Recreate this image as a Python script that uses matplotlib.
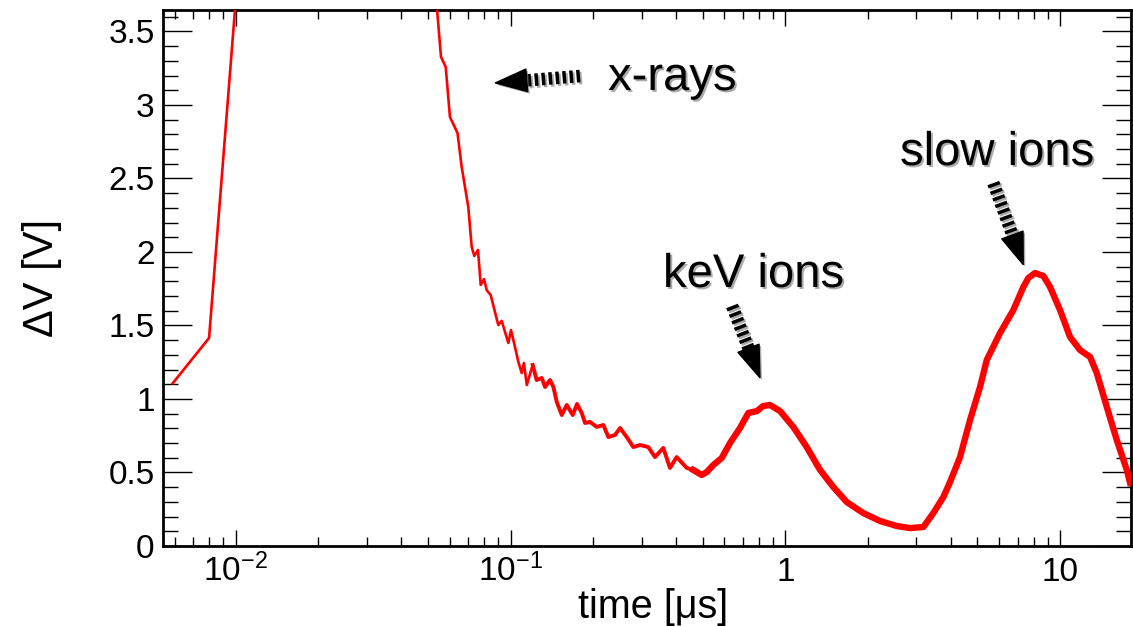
#!/usr/bin/env python3
"""Detector signal vs. time after the laser shot, with x-ray and ion peaks marked."""

import matplotlib

matplotlib.use("Agg")
import matplotlib.patheffects as pe
import matplotlib.pyplot as plt
import numpy as np
from matplotlib.patches import Polygon
from matplotlib.ticker import FixedLocator, LogLocator, MultipleLocator, NullFormatter

# signal trace: time [us] and amplitude [V]; the first burst runs off the top of the frame
time_us = [
    0.0059, 0.0080, 0.0100, 0.0120, 0.0200, 0.0400, 0.0500,
    0.0536, 0.05585, 0.05809, 0.06021, 0.06413, 0.06643, 0.07020, 0.07224,
    0.07384, 0.07615, 0.07790, 0.08008, 0.08191, 0.08469, 0.09028, 0.09290,
    0.09818, 0.1004, 0.1038, 0.1068, 0.1098, 0.1119, 0.1146, 0.1204,
    0.1245, 0.1299, 0.1336, 0.1392, 0.1432, 0.1473, 0.1536, 0.1602,
    0.1684, 0.1746, 0.1816, 0.1867, 0.1947, 0.2059, 0.2177, 0.2270,
    0.2401, 0.2504, 0.2648, 0.2798, 0.2960, 0.3172, 0.3355, 0.3597,
    0.3804, 0.4024, 0.4377, 0.4625, 0.4964, 0.5176, 0.5470, 0.5870,
    0.6292, 0.6841, 0.7334, 0.7889, 0.8297, 0.8796, 0.9565, 1.069,
    1.196, 1.338, 1.495, 1.673, 1.922, 2.211, 2.544, 2.843,
    3.178, 3.456, 3.758, 3.975, 4.322, 4.700, 5.111, 5.406,
    6.043, 6.755, 7.347, 7.661, 8.103, 8.687, 9.188, 9.991,
    10.86, 11.81, 12.85, 13.59, 14.78, 16.07, 17.48, 17.97,
]
signal_v = [
    1.107, 1.415, 3.71, 8.5, 10.0, 5.5, 4.2,
    3.73, 3.327, 3.259, 2.918, 2.810, 2.578, 2.306, 2.034,
    1.973, 2.014, 1.776, 1.816, 1.741, 1.707, 1.503, 1.531,
    1.381, 1.469, 1.354, 1.252, 1.177, 1.245, 1.095, 1.231,
    1.129, 1.143, 1.082, 1.129, 1.082, 0.980, 0.891, 0.959,
    0.891, 0.966, 0.905, 0.837, 0.844, 0.810, 0.823, 0.741,
    0.755, 0.803, 0.741, 0.673, 0.687, 0.673, 0.605, 0.667,
    0.531, 0.605, 0.531, 0.517, 0.483, 0.503, 0.551, 0.599,
    0.701, 0.803, 0.905, 0.918, 0.952, 0.959, 0.918, 0.810,
    0.673, 0.517, 0.401, 0.299, 0.224, 0.170, 0.136, 0.122,
    0.129, 0.224, 0.333, 0.435, 0.605, 0.857, 1.082, 1.265,
    1.449, 1.605, 1.762, 1.823, 1.857, 1.837, 1.762, 1.605,
    1.422, 1.333, 1.286, 1.177, 0.946, 0.721, 0.517, 0.429,
]

x_ticks = [0.01, 0.1, 1, 10]
x_tick_labels = [r"$10^{-2}$", r"$10^{-1}$", "1", "10"]

# annotations: label, label position (axes fraction), arrow tail and tip (data)
labels = ["x-rays", "keV ions", "slow ions"]
label_pos = [(0.4597, 0.8507), (0.5165, 0.4832), (0.7614, 0.7108)]
arrow_tail = [(0.1790, 3.197), (0.640, 1.633), (5.713, 2.469)]
arrow_tip = [(0.0878, 3.150), (0.809, 1.143), (7.347, 1.912)]

plt.rcParams.update({
    "font.family": ["Liberation Sans", "DejaVu Sans"],
    "mathtext.fontset": "custom",
    "mathtext.rm": "Liberation Sans",
    "mathtext.it": "Liberation Sans:italic",
    "mathtext.bf": "Liberation Sans:bold",
})

shadow_text = [pe.withSimplePatchShadow(offset=(1.4, -1.4), shadow_rgbFace="0.45", alpha=0.6)]
shadow_line = [pe.SimpleLineShadow(offset=(1.4, -1.4), shadow_color="0.45", alpha=0.6), pe.Normal()]


def hatched_arrow(ax, tail, tip, head_len=32.0, head_w=23.0, shaft_w=9.0):
    """Thick dashed shaft with a solid triangular head, sized in pixels."""
    to_px = ax.transData.transform
    to_data = ax.transData.inverted().transform
    p_tail = to_px(tail)
    p_tip = to_px(tip)
    d = p_tip - p_tail
    u = d / np.hypot(*d)
    n = np.array([-u[1], u[0]])
    base = p_tip - u * head_len
    shaft = to_data(np.vstack([p_tail, base + u * 2]))
    ax.plot(shaft[:, 0], shaft[:, 1], color="black", lw=shaft_w,
            linestyle=(0, (0.28, 0.28)), solid_capstyle="butt",
            dash_capstyle="butt", path_effects=shadow_line, zorder=4)
    head = to_data(np.vstack([p_tip, base + n * head_w / 2, base - n * head_w / 2]))
    ax.add_patch(Polygon(head, closed=True, facecolor="black", edgecolor="black",
                         lw=0.8, zorder=5,
                         path_effects=[pe.withSimplePatchShadow(offset=(1.4, -1.4),
                                                                shadow_rgbFace="0.45",
                                                                alpha=0.6)]))


fig = plt.figure(figsize=(11.33, 6.26), dpi=100)
ax = fig.add_axes([0.1439, 0.1278, 0.8543, 0.8562])

t = np.array(time_us)
v = np.array(signal_v)
ax.plot(t, v, color="#ff0000", lw=1.9, zorder=3)
mid = t >= 0.12
ax.plot(t[mid], v[mid], color="#ff0000", lw=2.8, zorder=3)
late = t >= 0.45
ax.plot(t[late], v[late], color="#ff0000", lw=4.6, zorder=3)

ax.set_xscale("log")
ax.set_xlim(0.00544, 18.1)
ax.set_ylim(0, 3.646)

ax.xaxis.set_major_locator(FixedLocator(x_ticks))
ax.set_xticklabels(x_tick_labels)
ax.xaxis.set_minor_locator(LogLocator(base=10, subs=np.arange(2, 10)))
ax.xaxis.set_minor_formatter(NullFormatter())
ax.yaxis.set_major_locator(MultipleLocator(0.5))
ax.yaxis.set_minor_locator(MultipleLocator(0.1))
ax.yaxis.set_major_formatter(plt.FuncFormatter(lambda val, _: f"{val:g}"))

ax.tick_params(which="both", direction="in", top=True, right=True, labelsize=24, width=1.0)
ax.tick_params(axis="x", which="major", length=11.5, pad=25)
ax.tick_params(axis="x", which="minor", length=6.5)
ax.tick_params(axis="y", which="major", length=21, pad=6)
ax.tick_params(axis="y", which="minor", length=11)
for lbl in ax.get_xticklabels():
    lbl.set_verticalalignment("baseline")
for spine in ax.spines.values():
    spine.set_linewidth(2.0)

ax.set_xlabel("time [μs]", fontsize=28.5)
ax.set_ylabel("ΔV [V]", fontsize=30)
ax.xaxis.set_label_coords(0.506, -0.078)
ax.yaxis.set_label_coords(-0.104, 0.5)

for text, (fx, fy) in zip(labels, label_pos):
    ax.text(fx, fy, text, transform=ax.transAxes, fontsize=34, ha="left",
            va="baseline", path_effects=shadow_text, zorder=6)

fig.canvas.draw()
for tail, tip in zip(arrow_tail, arrow_tip):
    hatched_arrow(ax, tail, tip)

fig.savefig("out.png", dpi=100)
